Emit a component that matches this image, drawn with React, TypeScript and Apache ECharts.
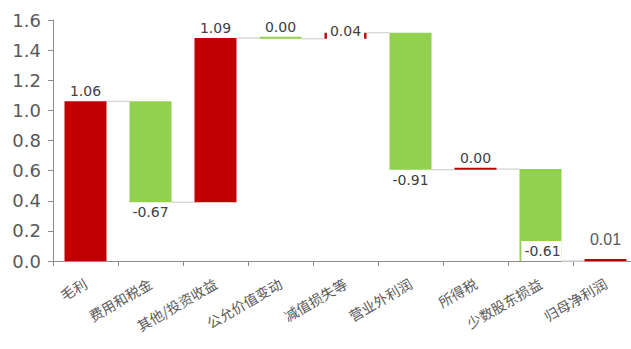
import React, { useEffect, useRef } from "react";
import * as echarts from "echarts";

const categories = ["毛利", "费用和税金", "其他/投资收益", "公允价值变动", "减值损失等", "营业外利润", "所得税", "少数股东损益", "归母净利润"];
const values = [1.06, -0.67, 1.09, -0.004, 0.04, -0.91, 0.004, -0.61, 0.01];
const isTotal = [true, false, false, false, false, false, false, false, true];
const yTicks = [0, 0.2, 0.4, 0.6, 0.8, 1.0, 1.2, 1.4, 1.6];

const RED = "#C00000";
const GREEN = "#92D050";

function fmt(v: number) {
  const s = v.toFixed(2);
  return s === "-0.00" ? "0.00" : s;
}

export default function App() {
  const ref = useRef<HTMLDivElement>(null);
  useEffect(() => {
    if (!ref.current) return;
    const chart = echarts.init(ref.current, null, { renderer: "svg" });

    const base: any[] = [];
    const up: any[] = [];
    const down: any[] = [];
    const levels: number[] = [];
    let cum = 0;
    values.forEach((v, i) => {
      if (isTotal[i]) {
        base.push(0);
        up.push(v);
        down.push("-");
        cum = v;
      } else if (v >= 0) {
        base.push(cum);
        up.push(v);
        down.push("-");
        cum += v;
      } else {
        cum += v;
        base.push(Math.max(cum, 0));
        up.push("-");
        down.push(-v);
      }
      levels.push(Math.max(cum, 0));
    });

    const labelFor = (i: number) => {
      const v = values[i];
      const common: any = {
        show: true,
        fontSize: 14,
        color: "#404040",
        fontFamily: "DejaVu Sans",
        formatter: () => fmt(v),
      };
      if (i === 4) return { ...common, position: "top", distance: -7, backgroundColor: "#fff", padding: [0, 3, 2, 3] };
      if (i === 7) return { ...common, position: "insideBottom", distance: 0, offset: [1, 0], backgroundColor: "#fff", padding: [3, 1, 3, 3] };
      if (i === 8) return { ...common, position: "top", distance: 12, fontSize: 16, color: "#595959", fontFamily: "Liberation Sans" };
      if (v < 0 && i !== 3) return { ...common, position: "bottom", distance: 3 };
      return { ...common, position: "top", distance: 3 };
    };

    const upData = up.map((v, i) => (v === "-" ? "-" : { value: v, label: labelFor(i) }));
    const downData = down.map((v, i) => (v === "-" ? "-" : { value: v, label: labelFor(i) }));
    const connectors = levels.slice(0, values.length - 1).map((l, i) => [i, l]);

    chart.setOption({
      animation: false,
      grid: { left: 53, top: 20, bottom: 88, right: 1 },
      xAxis: {
        type: "category",
        data: categories,
        axisLine: { lineStyle: { color: "#8c8c8c", width: 1 } },
        axisTick: { show: true, length: 5, lineStyle: { color: "#8c8c8c" } },
        axisLabel: {
          interval: 0,
          rotate: 30,
          fontSize: 14,
          color: "#595959",
          fontFamily: "Noto Sans CJK SC",
          margin: 21,
        },
      },
      yAxis: {
        type: "value",
        min: 0,
        max: 1.6,
        interval: 0.2,
        axisLine: { show: true, lineStyle: { color: "#8c8c8c", width: 1 } },
        axisTick: { show: true, length: 5, lineStyle: { color: "#8c8c8c" } },
        splitLine: { show: false },
        axisLabel: {
          fontSize: 18,
          color: "#595959",
          fontFamily: "DejaVu Sans",
          margin: 12,
          formatter: (v: number) => (yTicks.includes(Math.round(v * 10) / 10) ? v.toFixed(1) : ""),
        },
      },
      series: [
        {
          type: "custom",
          z: 1,
          data: connectors,
          renderItem: (params: any, api: any) => {
            const p = api.coord([api.value(0), api.value(1)]);
            const band = api.size([1, 0])[0];
            return {
              type: "line",
              shape: { x1: p[0] + 21, y1: p[1], x2: p[0] + band - 21, y2: p[1] },
              style: { stroke: "#d9d9d9", lineWidth: 1.5 },
            };
          },
        },
        {
          type: "bar",
          stack: "w",
          barWidth: 42,
          data: base,
          itemStyle: { color: "transparent" },
          emphasis: { disabled: true },
          silent: true,
        },
        {
          type: "bar",
          stack: "w",
          barWidth: 42,
          barMinHeight: 2,
          data: upData,
          itemStyle: { color: RED },
          z: 3,
        },
        {
          type: "bar",
          stack: "w",
          barWidth: 42,
          barMinHeight: 2,
          data: downData,
          itemStyle: { color: GREEN },
          z: 3,
        },
      ],
    });
    return () => chart.dispose();
  }, []);
  return (
    <div style={{ position: "absolute", left: 0, top: 0, width: 631, height: 349, overflow: "hidden" }}>
      <div ref={ref} style={{ width: 639, height: 349 }} />
    </div>
  );
}
